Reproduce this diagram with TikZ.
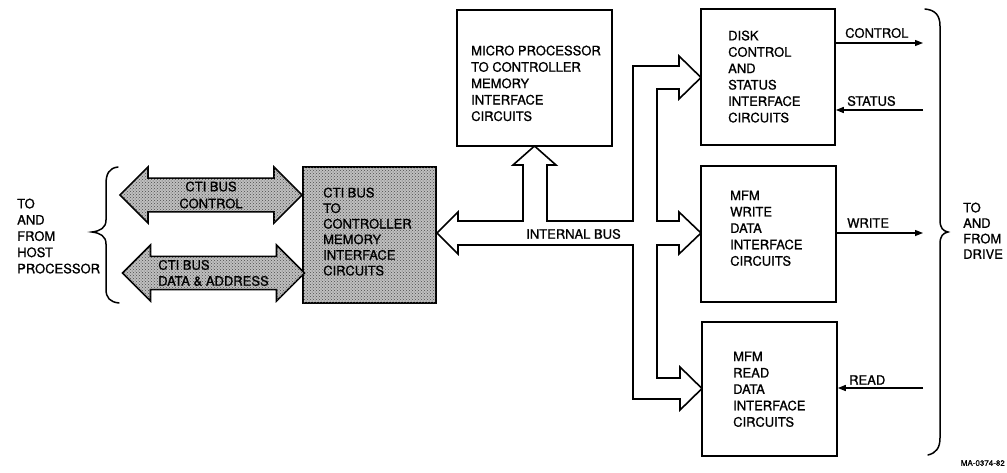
\documentclass[tikz,border=0pt]{standalone}
\usepackage{fontspec}
\setmainfont{TeX Gyre Heros}[RawFeature={embolden=0.9}]
\usetikzlibrary{arrows.meta,shapes.arrows,patterns}
\begin{document}
\begin{tikzpicture}[x=1pt,y=-1pt,
  font=\fontsize{13}{16.4}\selectfont,
  box/.style={draw,line width=1.6pt,inner sep=0pt,fill=white},
  speckle/.style={fill=black!25,postaction={pattern=crosshatch dots,pattern color=black!70}},
  txt/.style={anchor=north west,inner sep=0pt,align=left},
  lbl/.style={anchor=west,inner sep=0pt},
  sig/.style={line width=1.3pt,-{Triangle[length=8pt,width=6pt]}},
  brace/.style={line width=1.5pt,line cap=round},
  busline/.style={line width=1.6pt,line join=miter,fill=white},
  dbl/.style={double arrow,draw,line width=1.6pt,double arrow tip angle=90,
    minimum width=56pt,double arrow head extend=9.5pt,minimum height=182pt,
    inner sep=0pt,speckle}]
\useasboundingbox (0,0) rectangle (1007,472);

% internal bus outline
\draw[busline] (437,233) -- (458,212) -- (458,221) -- (523,221) -- (523,165) -- (513,165)
  -- (534.5,146) -- (556,165) -- (547,165) -- (547,221) -- (633,221) -- (633,66) -- (679,66)
  -- (679,56) -- (701,77.5) -- (679,99) -- (679,89) -- (657,89) -- (657,221) -- (679,221)
  -- (679,212) -- (701,233) -- (679,254) -- (679,245) -- (657,245) -- (657,378) -- (680,378)
  -- (680,367) -- (702,388.5) -- (680,410) -- (680,399) -- (633,399) -- (633,245) -- (458,245)
  -- (458,254) -- cycle;
\node[inner sep=0pt] (ib) at (573.5,234) {INTERNAL BUS};

% boxes
\node[box,minimum width=155pt,minimum height=136pt] (mp) at (534.5,78) {};
\node[box,minimum width=134pt,minimum height=136pt] (dc) at (768,77) {};
\node[box,minimum width=135pt,minimum height=136pt] (wr) at (768.5,234) {};
\node[box,minimum width=135pt,minimum height=134pt] (rd) at (769.5,389) {};
\node[box,minimum width=133pt,minimum height=136pt,speckle] (cti) at (369.5,235) {};

\node[txt] (mpt) at (471,45.4) {MICRO PROCESSOR\\TO CONTROLLER\\MEMORY\\INTERFACE\\CIRCUITS};
\node[txt] (dct) at (728,30.4) {DISK\\CONTROL\\AND\\STATUS\\INTERFACE\\CIRCUITS};
\node[txt] (wrt) at (730,190.4) {MFM\\WRITE\\DATA\\INTERFACE\\CIRCUITS};
\node[txt] (rdt) at (733,351.4) {MFM\\READ\\DATA\\INTERFACE\\CIRCUITS};
\node[txt,font=\fontsize{13}{15.6}\selectfont] (ctit) at (323,187.4) {CTI BUS\\TO\\CONTROLLER\\MEMORY\\INTERFACE\\CIRCUITS};

% left double arrows
\node[dbl,align=center,font=\fontsize{13}{17}\selectfont] (ctl) at (211,195) {CTI BUS\\CONTROL};
\node[dbl,align=left,font=\fontsize{13}{16}\selectfont] (dat) at (213.5,273) {CTI BUS\\DATA \& ADDRESS};

% signals
\coordinate (cE) at (923,43);
\coordinate (sE) at (923,110);
\coordinate (wE) at (923,233);
\coordinate (rE) at (923,388);
\draw[sig] (dc.east |- cE) -- (cE);
\draw[sig] (sE) -- (dc.east |- sE);
\draw[sig] (wr.east |- wE) -- (wE);
\draw[sig] (rE) -- (rd.east |- rE);
\node[lbl] (cl) at (845,33) {CONTROL};
\node[lbl] (sl) at (847,101) {STATUS};
\node[lbl] (wl) at (847,223) {WRITE};
\node[lbl] (rl) at (849,380) {READ};

% braces
\draw[brace] (118,167) .. controls (109,168) and (106,174) .. (106,184) -- (106,220)
  .. controls (106,228) and (100,231) .. (92,232) .. controls (100,233) and (106,236) .. (106,244)
  -- (106,289) .. controls (106,298) and (110,302) .. (119,303);
\draw[brace] (925,9) .. controls (935,10) and (940,15) .. (940,26) -- (940,220)
  .. controls (940,228) and (943,231) .. (948,232) .. controls (943,233) and (940,236) .. (940,244)
  -- (940,438) .. controls (940,448) and (936,453) .. (928,455);

\node[txt,font=\fontsize{13}{16.25}\selectfont] (host) at (17,198.4) {TO\\AND\\FROM\\HOST\\PROCESSOR};
\node[txt,font=\fontsize{13}{15.5}\selectfont] (drive) at (963,202.4) {TO\\AND\\FROM\\DRIVE};
\node[anchor=east,inner sep=0pt,font=\fontsize{8}{9}\selectfont] (ma) at (1005,463) {MA-0374-82};
\end{tikzpicture}
\end{document}
